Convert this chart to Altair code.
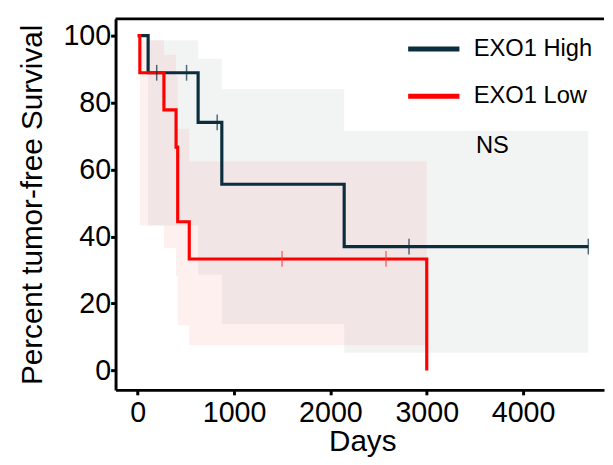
import altair as alt
import pandas as pd

# ---- data ----
groups = ["EXO1 High", "EXO1 Low"]

high_days = [0, 108, 627, 873, 2143, 4677]
high_surv = [100, 88.9, 74.1, 55.6, 37.0, 37.0]
high_cens_days = [197, 507, 825, 2816, 4677]
high_cens_surv = [88.9, 88.9, 74.1, 37.0, 37.0]
high_band_days = [108, 627, 873, 2143, 4677]
high_band_upper = [98.6, 93.1, 84.0, 71.5, 71.5]
high_band_lower = [43.3, 28.6, 13.9, 5.3, 5.3]

low_days = [0, 22, 272, 398, 415, 535, 3000]
low_surv = [100, 88.9, 77.8, 66.7, 44.4, 33.3, 0]
low_cens_days = [1498, 2577]
low_cens_surv = [33.3, 33.3]
low_band_days = [22, 272, 398, 415, 535, 3000]
low_band_upper = [98.6, 94.3, 88.0, 72.2, 62.5, 62.5]
low_band_lower = [43.3, 36.6, 28.1, 13.4, 7.5, 7.5]

x_ticks = [0, 1000, 2000, 3000, 4000]
y_ticks = [0, 20, 40, 60, 80, 100]

note_text = ["NS"]
note_days = [3510]
note_surv = [66.9]

# ---- tables ----
curves = pd.concat([
    pd.DataFrame({"days": high_days, "surv": high_surv, "group": groups[0]}),
    pd.DataFrame({"days": low_days, "surv": low_surv, "group": groups[1]}),
])
cens_high = pd.DataFrame({"days": high_cens_days, "surv": high_cens_surv})
cens_low = pd.DataFrame({"days": low_cens_days, "surv": low_cens_surv})
band_high = pd.DataFrame({"days": high_band_days, "lo": high_band_lower, "hi": high_band_upper})
band_low = pd.DataFrame({"days": low_band_days, "lo": low_band_lower, "hi": low_band_upper})
notes = pd.DataFrame({"t": note_text, "days": note_days, "surv": note_surv})

HIGH_C = "#0a2e3d"
LOW_C = "#ff0000"
FONT = "Liberation Sans"

xs = alt.Scale(domain=[-230, 4840], nice=False, zero=False)
ys = alt.Scale(domain=[-5.8, 105], nice=False, zero=False)

X = alt.X("days:Q", scale=xs,
          axis=alt.Axis(values=x_ticks, format="d", title="Days", grid=False,
                        labelPadding=4, titleX=250, titleY=37, titleBaseline="top",
                        titleAlign="center"))
Y = alt.Y("surv:Q", scale=ys,
          axis=alt.Axis(values=y_ticks, format="d", title="Percent tumor-free Survival", grid=False,
                        labelPadding=0, titleX=-69, titleY=188, titleAngle=-90,
                        titleBaseline="bottom", titleAlign="center"))

bh = alt.Chart(band_high).mark_area(interpolate="step-after", color=HIGH_C, opacity=0.055).encode(
    x=X, y=alt.Y("lo:Q", scale=ys), y2="hi:Q")
bl = alt.Chart(band_low).mark_area(interpolate="step-after", color=LOW_C, opacity=0.06).encode(
    x=alt.X("days:Q", scale=xs), y=alt.Y("lo:Q", scale=ys), y2="hi:Q")

lines = alt.Chart(curves).mark_line(interpolate="step-after", strokeWidth=3.2).encode(
    x=X, y=Y,
    color=alt.Color("group:N", scale=alt.Scale(domain=groups, range=[HIGH_C, LOW_C]),
                    sort=groups,
                    legend=alt.Legend(title=None, orient="none", legendX=294, legendY=2,
                                      symbolType="stroke", symbolSize=2700, symbolStrokeWidth=5,
                                      labelFontSize=24, labelFont=FONT, labelColor="black",
                                      rowPadding=7, labelOffset=12)),
)

ch = alt.Chart(cens_high).mark_tick(orient="vertical", size=16, thickness=1.5, color=HIGH_C).encode(
    x=alt.X("days:Q", scale=xs), y=alt.Y("surv:Q", scale=ys))
cl = alt.Chart(cens_low).mark_tick(orient="vertical", size=16, thickness=1.5, color="#ff3b3b").encode(
    x=alt.X("days:Q", scale=xs), y=alt.Y("surv:Q", scale=ys))

note = alt.Chart(notes).mark_text(align="left", baseline="middle", fontSize=24, font=FONT, color="black").encode(
    x=alt.X("days:Q", scale=xs), y=alt.Y("surv:Q", scale=ys), text="t:N")

top_rule = alt.Chart(notes).mark_rule(color="black", strokeWidth=3).encode(
    x=alt.value(0), x2=alt.value(495), y=alt.value(0))

chart = alt.layer(bh, bl, lines, ch, cl, note, top_rule).properties(
    width=495, height=376,
    padding={"left": 109, "top": 8, "right": 1, "bottom": 65},
    autosize="none",
).configure_view(stroke=None).configure_axis(
    domainColor="black", domainWidth=3, tickColor="black", tickWidth=3, tickSize=5,
    labelFont=FONT, labelFontSize=29, labelColor="black",
    titleFont=FONT, titleFontSize=30, titleColor="black", titleFontWeight="normal",
)

chart.save("out.html", embed_options={"renderer": "svg", "actions": False})
